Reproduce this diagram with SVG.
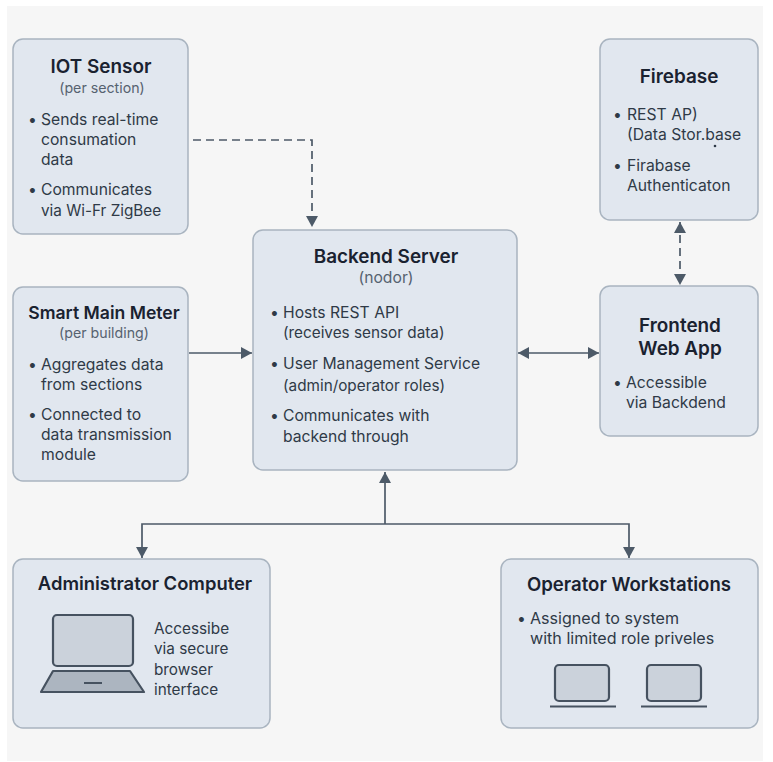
<svg xmlns="http://www.w3.org/2000/svg" width="773" height="762" viewBox="0 0 773 762">
<style>
text{font-family:"Inter","Liberation Sans",sans-serif;fill:#2f3a47}
.box{fill:#e1e7ef;stroke:#a9b4c0;stroke-width:1.5}
.t{font-size:18.900px;font-weight:600;fill:#1a2230;text-anchor:middle}
.s{font-size:14.200px;fill:#566270;text-anchor:middle}
.b{font-size:15.700px}
.n{font-size:15.300px}
.c{fill:none;stroke:#4d5a68;stroke-width:1.7}
.d{stroke-dasharray:8 5}
.a{fill:#4d5a68;stroke:none}
.i{fill:#cbd2db;stroke:#465260;stroke-width:2.2}
.l{fill:#acb5c0;stroke:#465260;stroke-width:2.2;stroke-linejoin:round}
</style>
<defs>
<marker id="ah" markerWidth="12" markerHeight="12" refX="11" refY="6" orient="auto-start-reverse" markerUnits="userSpaceOnUse"><path class="a" d="M0 0L11 6L0 12Z"/></marker>
</defs>
<rect width="773" height="762" fill="#ffffff"/>
<rect x="7" y="6" width="756" height="755" fill="#f6f6f6"/>
<g id="connectors">
<path class="c d" d="M193 140H312V227" marker-end="url(#ah)"/>
<path class="c" d="M189 353H252" marker-end="url(#ah)"/>
<path class="c" d="M518 353H599" marker-start="url(#ah)" marker-end="url(#ah)"/>
<path class="c d" d="M680 222V285" marker-start="url(#ah)" marker-end="url(#ah)"/>
<path class="c" d="M385 472V524" marker-start="url(#ah)"/>
<path class="c" d="M142 558V524H629V558" marker-start="url(#ah)" marker-end="url(#ah)"/>
</g>
<g id="iot-sensor">
<rect class="box" x="13" y="39" width="175" height="195" rx="10"/>
<text class="t" x="101" y="73">IOT Sensor</text>
<text class="s" x="102" y="93">(per section)</text>
<text class="b" x="28" y="125">•</text>
<text class="b" x="41" y="125">Sends real-time</text>
<text class="b" x="41" y="145">consumation</text>
<text class="b" x="41" y="165">data</text>
<text class="b" x="28" y="195">•</text>
<text class="b" x="41" y="195">Communicates</text>
<text class="n" x="41" y="216">via Wi-Fr ZigBee</text>
</g>
<g id="smart-main-meter">
<rect class="box" x="13" y="287" width="175" height="194" rx="10"/>
<text class="t" x="104" y="319" style="font-size:17.600px">Smart Main Meter</text>
<text class="s" x="104" y="338">(per building)</text>
<text class="b" x="28" y="370">•</text>
<text class="b" x="41" y="370">Aggregates data</text>
<text class="b" x="41" y="390">from sections</text>
<text class="b" x="28" y="420">•</text>
<text class="b" x="41" y="420">Connected to</text>
<text class="b" x="41" y="440">data transmission</text>
<text class="b" x="41" y="460">module</text>
</g>
<g id="backend-server">
<rect class="box" x="253" y="230" width="264" height="240" rx="10"/>
<text class="t" x="386" y="263">Backend Server</text>
<text class="s" x="386" y="283" style="font-size:15.700px">(nodor)</text>
<text class="b" x="270" y="318">•</text>
<text class="b" x="283" y="318">Hosts REST API</text>
<text class="n" x="283" y="338">(receives sensor data)</text>
<text class="b" x="270" y="369">•</text>
<text class="b" x="283" y="369">User Management Service</text>
<text class="n" x="283" y="391">(admin/operator roles)</text>
<text class="b" x="270" y="421">•</text>
<text class="b" x="283" y="421">Communicates with</text>
<text class="b" x="283" y="442">backend through</text>
</g>
<g id="firebase">
<rect class="box" x="600" y="39" width="158" height="181" rx="10"/>
<text class="t" x="679" y="83">Firebase</text>
<text class="b" x="613" y="120">•</text>
<text class="b" x="627" y="120">REST AP)</text>
<text class="b" x="627" y="140">(Data Stor.base</text>
<circle cx="715" cy="146" r="1.3" fill="#2f3a47"/>
<text class="b" x="613" y="171">•</text>
<text class="b" x="627" y="171">Firabase</text>
<text class="b" x="627" y="191">Authenticaton</text>
</g>
<g id="frontend-web-app">
<rect class="box" x="600" y="286" width="158" height="150" rx="10"/>
<text class="t" x="680" y="332">Frontend</text>
<text class="t" x="680" y="355">Web App</text>
<text class="b" x="613" y="388">•</text>
<text class="b" x="626" y="388">Accessible</text>
<text class="b" x="626" y="408">via Backdend</text>
</g>
<g id="administrator-computer">
<rect class="box" x="13" y="559" width="257" height="169" rx="10"/>
<text class="t" x="145" y="590" style="font-size:18.400px">Administrator Computer</text>
<rect class="i" x="53" y="615" width="80" height="51" rx="4"/>
<path class="l" d="M53 671H130L144 692H41Z"/>
<path d="M84 683H102" stroke="#465260" stroke-width="2"/>
<text class="n" x="154" y="634">Accessibe</text>
<text class="n" x="154" y="654">via secure</text>
<text class="n" x="154" y="675">browser</text>
<text class="n" x="154" y="695">interface</text>
</g>
<g id="operator-workstations">
<rect class="box" x="501" y="559" width="257" height="169" rx="10"/>
<text class="t" x="629" y="591" style="font-size:18.600px">Operator Workstations</text>
<text class="b" x="517" y="624">•</text>
<text class="b" x="530" y="624" style="font-size:16.100px">Assigned to system</text>
<text class="b" x="530" y="644" style="font-size:16.100px">with limited role priveles</text>
<rect class="i" x="555" y="665" width="54" height="36" rx="4"/>
<path d="M550 706.500H616" stroke="#465260" stroke-width="2.200"/>
<rect class="i" x="647" y="665" width="54" height="36" rx="4"/>
<path d="M641 706.500H707" stroke="#465260" stroke-width="2.200"/>
</g>
</svg>
